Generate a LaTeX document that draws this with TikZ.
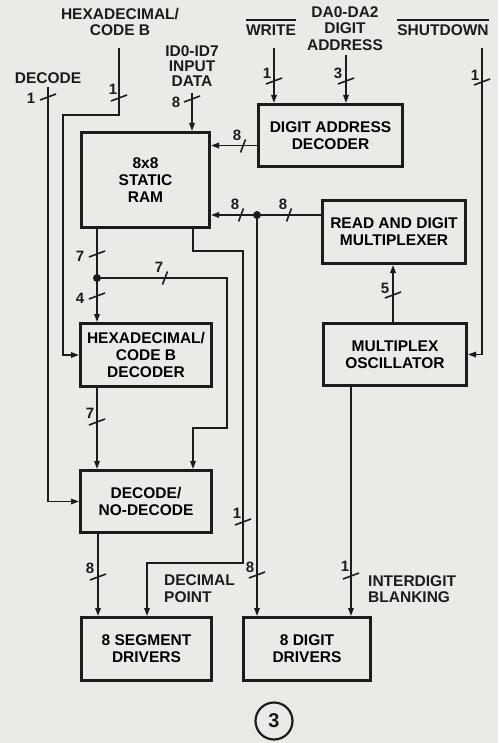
\documentclass[tikz,border=0pt]{standalone}
\usepackage{fontspec}
\setmainfont{Liberation Sans}
\usetikzlibrary{arrows.meta}

\definecolor{ink}{RGB}{28,28,28}
\definecolor{paper}{RGB}{234,234,231}

\tikzset{
  block/.style={draw=ink, line width=3pt, align=center, inner sep=0pt,
    font=\bfseries\fontsize{15.5}{17}\selectfont},
  wire/.style={draw=ink, line width=1.6pt},
  arr/.style={wire, -{Triangle[length=8pt,width=5.5pt]}},
  sig/.style={align=center, inner sep=0pt, text=ink,
    font=\bfseries\fontsize{15.5}{16.5}\selectfont},
  num/.style={inner sep=0pt, text=ink, font=\bfseries\fontsize{15}{15}\selectfont},
  dot/.style={circle, fill=ink, inner sep=0pt, minimum size=8pt},
  bar/.style={draw=ink, line width=1.3pt},
}

\begin{document}
\begin{tikzpicture}[x=1pt, y=-1pt]
    \fill[paper] (0,0) rectangle (498,743);
    \useasboundingbox (0,0) rectangle (498,743);

    % Blocks
    \node[block, minimum width=128pt, minimum height=95pt] (ram) at (145.5,180) {8x8\\STATIC\\RAM};
    \node[block, minimum width=144pt, minimum height=62pt] (dad) at (330.5,135.5) {DIGIT ADDRESS\\DECODER};
    \node[block, minimum width=143pt, minimum height=63pt] (rdm) at (394,232) {READ AND DIGIT\\MULTIPLEXER};
    \node[block, minimum width=143pt, minimum height=62pt] (osc) at (395,354.5) {MULTIPLEX\\OSCILLATOR};
    \node[block, minimum width=131pt, minimum height=63pt] (hex) at (146,355) {HEXADECIMAL/\\CODE B\\DECODER};
    \node[block, minimum width=131pt, minimum height=62pt] (dnd) at (146,501.5) {DECODE/\\NO-DECODE};
    \node[block, minimum width=130pt, minimum height=63pt] (seg) at (146.5,649) {8 SEGMENT\\DRIVERS};
    \node[block, minimum width=127pt, minimum height=63pt] (dig) at (307,649) {8 DIGIT\\DRIVERS};

    % Signal names
    \node[sig] (decode) at (48,78.5) {DECODE};
    \node[sig] (hexin) at (120,22) {HEXADECIMAL/\\CODE B};
    \node[sig, font=\bfseries\fontsize{15.5}{15}\selectfont] (idin) at (192,66.5) {ID0-ID7\\INPUT\\DATA};
    \node[sig, anchor=base] (write) at (271,36) {WRITE};
    \node[sig] (dain) at (345,28.5) {DA0-DA2\\DIGIT\\ADDRESS};
    \node[sig, anchor=base] (shutdown) at (443,36) {SHUTDOWN};
    \node[sig, align=left, anchor=west] (dp) at (164,588.5) {DECIMAL\\POINT};
    \node[sig, align=left, anchor=west] (blank) at (368,589) {INTERDIGIT\\BLANKING};

    % Active-low bars
    \draw[bar] ([yshift=5pt]write.north west) -- ([yshift=5pt]write.north east);
    \draw[bar] ([yshift=5pt]shutdown.north west) -- ([yshift=5pt]shutdown.north east);

    % Free ends and junctions
    \coordinate (decode-in) at (48,87);
    \coordinate (hex-in) at (119,48);
    \coordinate (id-in) at (192,93);
    \coordinate (write-in) at (274,48);
    \coordinate (da-in) at (346,55);
    \coordinate (sd-in) at (482,48);
    \coordinate (jct) at (257,215);
    \coordinate (split) at (97,278);

    % Inputs
    \draw[arr] (decode-in) |- (dnd.west);
    \draw[arr] (hex-in) |- (63,115) |- (hex.west);
    \draw[arr] (id-in) -- (id-in |- ram.north);
    \draw[arr] (write-in) -- (write-in |- dad.north);
    \draw[arr] (da-in) -- (da-in |- dad.north);
    \draw[arr] (sd-in) |- (osc.east);

    % RAM in and out
    \draw[arr] ([yshift=-10pt]dad.west) -- ([yshift=-10pt]dad.west -| ram.east);
    \draw[arr] (rdm.west |- jct) -- (jct -| ram.east);
    \draw[arr] (jct) -- (jct |- dig.north);
    \draw[arr] (split |- ram.south) -- (split |- hex.north);
    \draw[arr] (split) -| (227,428) -| (193,0 |- dnd.north);
    \draw[arr] (193,0 |- ram.south) |- (243,251) |- (147,563) -- (147,0 |- seg.north);

    % Decoders to drivers
    \draw[arr] (97,0 |- hex.south) -- (97,0 |- dnd.north);
    \draw[arr] (98,0 |- dnd.south) -- (98,0 |- seg.north);
    \draw[arr] (393,0 |- osc.north) -- (393,0 |- rdm.south);
    \draw[arr] (351,0 |- osc.south) -- (351,0 |- dig.north);

    \node[dot] (jdot) at (jct) {};
    \node[dot] (sdot) at (split) {};

    % Bus widths, vertical lines
    \foreach \x/\y/\n/\dx/\dy [count=\i] in {48/97/1/-17/1, 119/98/1/-6/-9, 192/99/8/-16/3,
        274/81/1/-7/-8, 346/81/3/-8/-8, 482/82/1/-7/-7, 97/254/7/-17/2, 97/296/4/-17/2,
        97/422/7/-7/-9, 98/577/8/-8/-9, 243/522/1/-6/-9, 257/575/8/-7/-8,
        351/576/1/-6/-10, 393/295/5/-8/-7}
    {
        \draw[wire] (\x-8,\y+3) -- (\x+8,\y-3);
        \node[num] (v\i) at (\x+\dx,\y+\dy) {\n};
    }

    % Bus widths, horizontal lines
    \foreach \x/\y/\n [count=\i] in {243/146/8, 241/215/8, 289/215/8, 165/278/7}
    {
        \draw[wire] (\x-2.5,\y+6.5) -- (\x+2.5,\y-6.5);
        \node[num] (h\i) at (\x-6,\y-11) {\n};
    }

    % Figure number
    \node[draw=ink, circle, line width=2.2pt, minimum size=37pt, inner sep=0pt,
        text=ink, font=\bfseries\fontsize{20}{20}\selectfont] (fig) at (274,721) {3};
\end{tikzpicture}
\end{document}
